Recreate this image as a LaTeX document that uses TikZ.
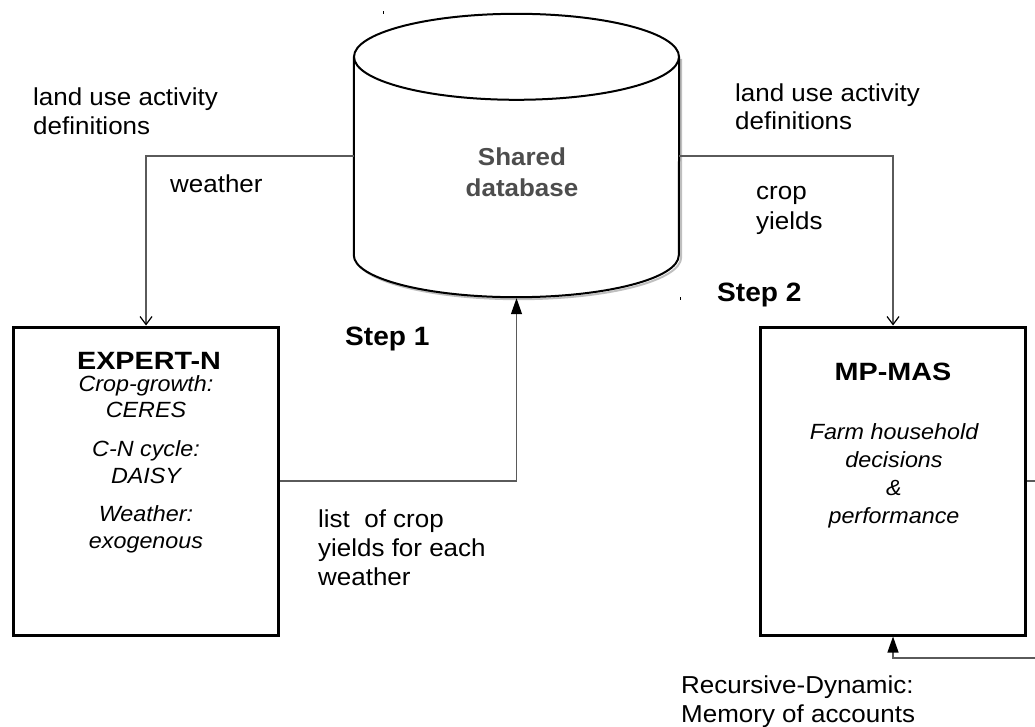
\documentclass[tikz,border=0pt]{standalone}
\usepackage{fontspec}
\setmainfont{Liberation Sans}[FakeStretch=1.06]
\newfontfamily\titlefont{Liberation Sans}[FakeStretch=1.15]
\usetikzlibrary{arrows.meta,calc}
\definecolor{wirecol}{HTML}{5A5A5A}
\definecolor{dbtext}{HTML}{4D4D4D}
% multi-line nodes are placed by the baseline of their last line
\tikzset{
  lbl/.style={font=\fontsize{24.5}{28.5}\selectfont, inner sep=0pt, align=left, anchor=base west},
  steplbl/.style={font=\bfseries\fontsize{26.5}{30}\selectfont, inner sep=0pt, anchor=base west},
  modelbox/.style={draw=black, line width=3pt, fill=white, minimum width=265pt, minimum height=308pt, inner sep=0pt},
  boxtitle/.style={font=\titlefont\bfseries\fontsize{25}{29}\selectfont, inner sep=0pt, anchor=base},
  boxbody/.style={font=\itshape\fontsize{22}{26.5}\selectfont, inner sep=0pt, align=center, anchor=base},
  dbbody/.style={minimum width=325pt, minimum height=198pt, inner sep=0pt},
  cylline/.style={draw=black, line width=2pt},
  cylshadow/.style={draw=black!25, line width=2pt},
  wire/.style={draw=wirecol, line width=1.2pt},
  opentip/.style={-{Straight Barb[length=8pt,width=12pt,color=black]}},
  solidtip/.style={-{Triangle[length=16pt,width=11pt,color=black]}},
}
\begin{document}
\begin{tikzpicture}[x=1pt,y=-1pt]
\useasboundingbox (0,0) rectangle (1035,727);
\clip (0,0) rectangle (1035,727);

% shared database: cylinder body between the centres of its two end ellipses
\node[dbbody] (db) at (516.5,156) {};
\coordinate (dbbase) at ($(db.south)+(0,43)$);
\draw[cylshadow] ($(db.north east)+(2,2)$) -- ($(db.south east)+(2,2)$)
  arc[start angle=0, end angle=-180, x radius=162.5pt, y radius=42pt];
\draw[cylline, fill=white] (db.north west) -- (db.south west)
  arc[start angle=180, end angle=360, x radius=162.5pt, y radius=42pt]
  -- (db.north east);
\draw[cylline, fill=white] (db.north) ellipse[x radius=162.5pt, y radius=43pt];
\node[font=\bfseries\fontsize{24.5}{31}\selectfont, text=dbtext, align=center, inner sep=0pt] (dblabel) at (522,172) {Shared\\database};

% small marks
\fill[black] (382.5,11.5) rectangle (384,14);
\fill[black] (679.5,297) rectangle (681,299.5);

% model boxes
\node[modelbox] (expert) at (146,481) {};
\node[modelbox] (mpmas) at (893,481) {};
\node[boxtitle] (experttitle) at (149,369) {EXPERT-N};
\node[boxbody] (expertbody) at (146,548) {Crop-growth:\\CERES\\[12.5pt]C-N cycle:\\DAISY\\[12pt]Weather:\\exogenous};
\node[boxtitle] (mpmastitle) at (893,380) {MP-MAS};
\node[boxbody, font=\itshape\fontsize{22}{28}\selectfont] (mpmasbody) at (894,523) {Farm household\\decisions\\\&\\performance};

% connectors
\draw[wire, opentip] (db.west) -| (expert.north);
\draw[wire, opentip] (db.east) -| (mpmas.north);
\draw[wire, solidtip] (expert.east) -| (dbbase);
\coordinate (loopcorner) at (1060,658);
\draw[wire, solidtip] (mpmas.east) -| (loopcorner) -| (mpmas.south);

% labels
\node[lbl] (landleft) at (33,134.5) {land use activity\\definitions};
\node[lbl] (weatherlbl) at (170,193) {weather};
\node[lbl] (landright) at (735,130) {land use activity\\definitions};
\node[lbl, font=\fontsize{24.5}{30}\selectfont] (croplbl) at (756,230) {crop\\yields};
\node[steplbl] (step1) at (345,345) {Step 1};
\node[steplbl] (step2) at (717,301) {Step 2};
\node[lbl, font=\fontsize{24.5}{29}\selectfont] (listlbl) at (318,585) {list \ of crop\\yields for each\\weather};
\node[lbl, font=\fontsize{24.5}{29}\selectfont] (recursive) at (681,722) {Recursive-Dynamic:\\Memory of accounts};
\end{tikzpicture}
\end{document}
